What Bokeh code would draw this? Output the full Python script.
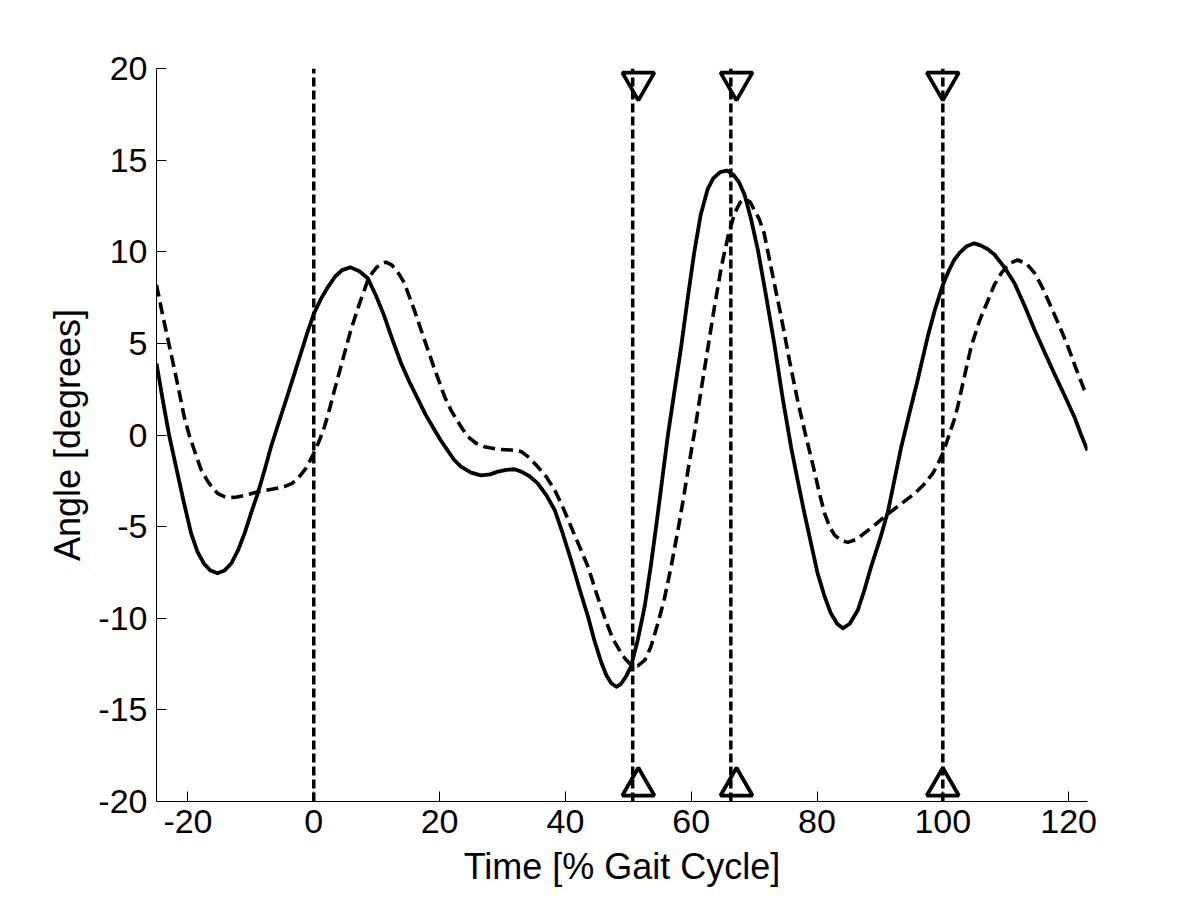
from bokeh.plotting import figure
from bokeh.models import Range1d, FixedTicker
from bokeh.embed import file_html
from bokeh.resources import INLINE

# ---- data ----
solid_x = [-25.0, -24.0, -23.0, -21.9, -20.7, -19.5, -18.45, -17.4, -16.4, -15.3, -14.2, -13.1,
           -12.05, -11.0, -10.0, -8.9, -7.8, -6.8, -5.6, -4.4, -3.3, -2.2, -1.1, 0.0, 1.1, 2.3,
           3.4, 4.5, 5.8, 7.2, 8.6, 9.9, 11.2, 12.5, 13.9, 15.2, 16.5, 17.8, 19.2, 20.2, 21.3,
           22.3, 23.4, 25.0, 26.6, 28.0, 29.3, 30.6, 31.9, 33.0, 34.3, 35.6, 37.0, 38.3, 39.6,
           40.9, 42.2, 43.6, 44.6, 45.7, 46.5, 47.3, 48.1, 48.8, 49.6, 50.4, 51.5, 52.6, 53.6,
           54.5, 55.4, 56.3, 57.3, 58.4, 59.5, 60.5, 61.5, 62.6, 63.5, 64.6, 65.7, 66.7, 67.6,
           68.5, 69.5, 70.6, 71.9, 73.2, 74.5, 75.9, 77.0, 78.0, 79.1, 80.1, 81.2, 82.2, 83.2,
           84.1, 85.2, 86.5, 87.5, 88.6, 90.0, 91.3, 92.4, 93.4, 94.7, 96.0, 97.6, 98.8, 100.0,
           101.0, 101.8, 102.7, 103.8, 105.0, 106.0, 107.1, 108.2, 109.8, 111.4, 113.0, 114.6,
           116.2, 117.7, 119.3, 120.9, 122.0, 123.0]
solid_y = [3.9, 1.9, 0.0, -1.73, -3.6, -5.37, -6.4, -7.05, -7.4, -7.55, -7.4, -7.0,
           -6.3, -5.37, -4.3, -3.18, -1.9, -0.64, 0.64, 1.91, 3.1, 4.3, 5.5, 6.6, 7.4, 8.1,
           8.65, 9.0, 9.15, 8.95, 8.55, 7.6, 6.5, 5.2, 3.9, 2.9, 2.0, 1.1, 0.27, -0.3, -0.85,
           -1.35, -1.73, -2.05, -2.2, -2.15, -2.0, -1.9, -1.87, -2.0, -2.25, -2.64, -3.3, -4.09,
           -5.4, -6.82, -8.35, -9.92, -11.2, -12.4, -13.1, -13.55, -13.74, -13.6, -13.2, -12.65,
           -11.2, -9.37, -7.1, -4.8, -2.4, 0.0, 2.3, 4.8, 7.6, 10.0, 12.0, 13.4, 14.0, 14.35,
           14.43, 14.2, 13.8, 13.1, 11.8, 10.1, 7.6, 5.0, 2.1, -0.7, -2.6, -4.27, -6.0, -7.55,
           -8.8, -9.73, -10.3, -10.55, -10.3, -9.55, -8.5, -7.19, -5.7, -4.15, -2.3, -0.64, 1.2,
           3.0, 5.37, 6.9, 8.19, 9.0, 9.55, 9.95, 10.3, 10.46, 10.35, 10.15, 9.85, 9.15, 8.28,
           7.05, 5.73, 4.5, 3.37, 2.2, 1.0, 0.0, -0.85]

dash_x = [-25.0, -24.0, -22.7, -21.6, -20.6, -19.8, -19.0, -17.9, -16.9, -16.1, -15.3, -14.3,
          -13.4, -12.2, -11.0, -8.9, -6.5, -4.7, -3.5, -2.5, -1.2, 0.0, 0.9, 1.7, 2.5, 3.3, 4.6,
          5.9, 7.2, 8.6, 9.3, 10.0, 10.7, 11.5, 12.3, 13.0, 13.7, 14.4, 16.0, 17.6, 19.2, 20.8,
          21.9, 22.9, 23.7, 24.5, 25.8, 27.1, 29.2, 31.4, 32.3, 33.0, 34.3, 35.6, 37.0, 38.3,
          39.6, 40.9, 42.2, 43.6, 44.9, 46.2, 47.5, 48.9, 49.6, 50.3, 51.5, 52.6, 53.6, 54.6,
          55.7, 56.8, 57.9, 58.7, 59.5, 60.6, 61.6, 62.6, 63.7, 64.8, 65.9, 66.9, 67.8, 68.7,
          69.4, 70.0, 70.8, 71.6, 72.9, 74.3, 75.6, 76.9, 78.0, 79.6, 80.4, 81.2, 82.0, 82.8,
          83.8, 84.9, 86.2, 87.5, 89.4, 91.3, 93.4, 95.5, 97.0, 98.4, 99.2, 100.0, 100.9, 101.8,
          102.4, 103.5, 104.5, 105.8, 107.2, 108.2, 109.3, 110.5, 111.9, 113.3, 114.6, 115.9,
          117.2, 118.6, 119.9, 121.2, 122.5, 123.0]
dash_y = [8.2, 6.5, 4.46, 2.7, 1.0, 0.0, -0.82, -1.9, -2.5, -2.9, -3.18, -3.35,
          -3.42, -3.38, -3.3, -3.1, -2.95, -2.82, -2.65, -2.36, -1.8, -1.0, -0.3, 0.45, 1.4,
          2.46, 4.1, 5.73, 7.1, 8.45, 8.85, 9.15, 9.35, 9.43, 9.3, 9.05, 8.7, 8.3, 6.8, 5.19,
          3.6, 2.09, 1.3, 0.73, 0.3, -0.09, -0.45, -0.64, -0.78, -0.82, -0.85, -0.91, -1.25,
          -1.73, -2.3, -3.0, -3.95, -5.0, -6.05, -7.19, -8.6, -9.92, -11.1, -11.92, -12.25,
          -12.5, -12.6, -12.3, -11.56, -10.4, -9.0, -7.2, -5.19, -3.6, -1.91, 0.3, 2.5, 4.64,
          7.0, 9.19, 10.9, 12.1, 12.7, 12.87, 12.7, 12.3, 11.8, 11.0, 8.8, 6.46, 4.1, 1.91,
          0.27, -2.0, -3.2, -4.27, -5.0, -5.46, -5.75, -5.86, -5.7, -5.37, -4.85, -4.3, -3.75,
          -3.2, -2.7, -2.1, -1.6, -1.0, -0.1, 0.82, 1.6, 3.3, 4.82, 6.2, 7.37, 8.2, 8.83, 9.35,
          9.55, 9.35, 8.83, 8.0, 7.0, 5.9, 4.82, 3.6, 2.46, 2.3]

vline_x = [0.0, 50.7, 66.3, 100.0]
event_marker_x = [51.6, 67.2, 100.0]
top_marker_y = [19.27, 19.27, 19.27]
bottom_marker_y = [-19.17, -19.17, -19.17]

x_ticks = [-20, 0, 20, 40, 60, 80, 100, 120]
y_ticks = [-20, -15, -10, -5, 0, 5, 10, 15, 20]
x_min, x_max = -25, 123
y_min, y_max = -20, 20

x_label = "Time [% Gait Cycle]"
y_label = "Angle [degrees]"

FONT = "Liberation Sans"

p = figure(width=1192, height=892,
           x_range=Range1d(x_min, x_max), y_range=Range1d(y_min, y_max),
           output_backend="svg", toolbar_location=None,
           min_border_left=156, min_border_right=105,
           min_border_top=68, min_border_bottom=91)

p.outline_line_color = None
p.grid.visible = False
p.background_fill_color = "white"
p.border_fill_color = "white"

for ax in (p.xaxis[0], p.yaxis[0]):
    ax.axis_line_color = "black"
    ax.axis_line_width = 1
    ax.major_tick_in = 10
    ax.major_tick_out = 0
    ax.major_tick_line_color = "black"
    ax.minor_tick_line_color = None
    ax.major_label_text_font = FONT
    ax.major_label_text_font_size = "34px"
    ax.major_label_text_color = "black"
    ax.axis_label_text_font = FONT
    ax.axis_label_text_font_size = "36px"
    ax.axis_label_text_font_style = "normal"
    ax.axis_label_text_color = "black"

p.xaxis.ticker = FixedTicker(ticks=x_ticks)
p.yaxis.ticker = FixedTicker(ticks=y_ticks)
p.xaxis.major_label_overrides = {t: str(t) for t in x_ticks}
p.yaxis.major_label_overrides = {t: str(t) for t in y_ticks}
p.xaxis.axis_label = x_label
p.yaxis.axis_label = y_label
p.xaxis.major_label_standoff = 8
p.xaxis.axis_label_standoff = 10
p.yaxis.major_label_standoff = 9
p.yaxis.axis_label_standoff = 7

# reference / event vertical lines
p.segment(x0=vline_x, y0=[y_min] * len(vline_x), x1=vline_x, y1=[y_max] * len(vline_x),
          line_color="black", line_width=3.5, line_dash="9 4")

# curves
p.line(solid_x, solid_y, line_color="black", line_width=3.8, line_join="round")
p.line(dash_x, dash_y, line_color="black", line_width=3.6, line_dash="12 6", line_join="round")

# event markers
p.scatter(event_marker_x, top_marker_y, marker="inverted_triangle", size=32,
          fill_color=None, line_color="black", line_width=3.8)
p.scatter(event_marker_x, bottom_marker_y, marker="triangle", size=32,
          fill_color=None, line_color="black", line_width=3.8)

open("out.html", "w").write(file_html(p, INLINE))
